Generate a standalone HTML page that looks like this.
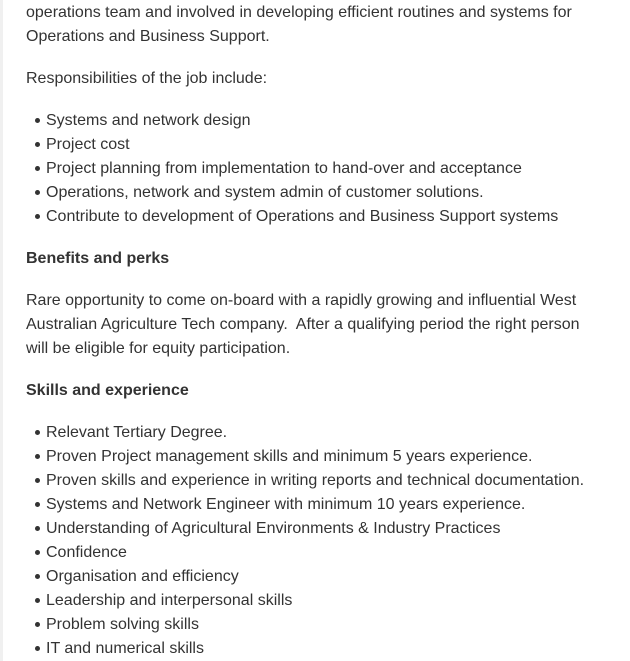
<!DOCTYPE html>
<html><head><meta charset="utf-8"><style>
html,body{margin:0;padding:0;width:630px;height:661px;overflow:hidden;background:#fff}
body{font-family:"Liberation Sans",Arial,sans-serif;font-size:16px;color:#333;position:relative}
.edge{position:absolute;left:0;top:0;width:3px;height:661px;background:#f0f0f0}
.l{position:absolute;left:26px;line-height:24px;white-space:nowrap;margin-top:2px}
.b{left:46px}
.b::before{content:"";position:absolute;left:-11px;top:9px;width:5px;height:5px;border-radius:50%;background:#333}
.h{font-weight:bold}
</style></head><body>
<div class="edge"></div>
<div class="l" style="top:-1px">operations team and involved in developing efficient routines and systems for</div>
<div class="l" style="top:23px">Operations and Business Support.</div>
<div class="l" style="top:65px">Responsibilities of the job include:</div>
<div class="l b" style="top:107px">Systems and network design</div>
<div class="l b" style="top:131px">Project cost</div>
<div class="l b" style="top:155px">Project planning from implementation to hand-over and acceptance</div>
<div class="l b" style="top:179px">Operations, network and system admin of customer solutions.</div>
<div class="l b" style="top:203px">Contribute to development of Operations and Business Support systems</div>
<div class="l h" style="top:245px">Benefits and perks</div>
<div class="l" style="top:287px">Rare opportunity to come on-board with a rapidly growing and influential West</div>
<div class="l" style="top:311px">Australian Agriculture Tech company.&nbsp; After a qualifying period the right person</div>
<div class="l" style="top:335px">will be eligible for equity participation.</div>
<div class="l h" style="top:377px">Skills and experience</div>
<div class="l b" style="top:419px">Relevant Tertiary Degree.</div>
<div class="l b" style="top:443px">Proven Project management skills and minimum 5 years experience.</div>
<div class="l b" style="top:467px">Proven skills and experience in writing reports and technical documentation.</div>
<div class="l b" style="top:491px">Systems and Network Engineer with minimum 10 years experience.</div>
<div class="l b" style="top:515px">Understanding of Agricultural Environments &amp; Industry Practices</div>
<div class="l b" style="top:539px">Confidence</div>
<div class="l b" style="top:563px">Organisation and efficiency</div>
<div class="l b" style="top:587px">Leadership and interpersonal skills</div>
<div class="l b" style="top:611px">Problem solving skills</div>
<div class="l b" style="top:635px">IT and numerical skills</div>
</body></html>
